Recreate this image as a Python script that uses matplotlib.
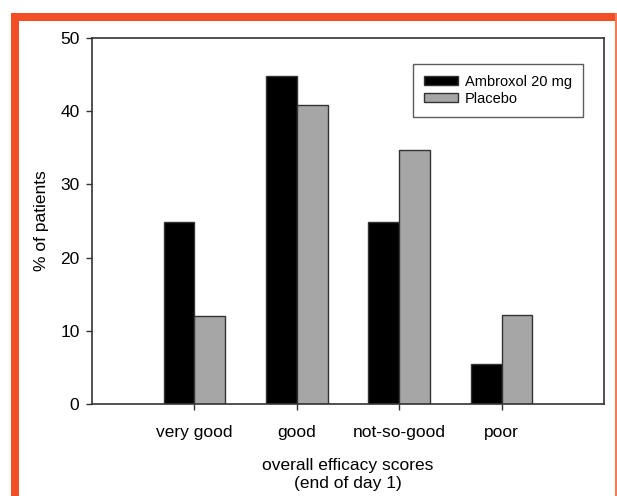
import numpy as np
import matplotlib.pyplot as plt
from matplotlib.patches import Rectangle

plt.rcParams['font.family'] = ['Liberation Sans', 'DejaVu Sans']

# efficacy scores at end of day 1
categories = ['very good', 'good', 'not-so-good', 'poor']
ambroxol = [24.8, 44.8, 24.8, 5.4]
placebo = [12.0, 40.9, 34.7, 12.2]

W, H = 617, 496
fig = plt.figure(figsize=(W / 100, H / 100), dpi=100)

# orange frame around the figure
orange = '#f24f24'
fig.patches.append(Rectangle((11 / W, 0), 8 / W, 1 - 13 / H, transform=fig.transFigure,
                             facecolor=orange, edgecolor='none'))
fig.patches.append(Rectangle((11 / W, 1 - 21 / H), 1 - 11 / W, 8 / H, transform=fig.transFigure,
                             facecolor=orange, edgecolor='none'))
fig.patches.append(Rectangle((615 / W, 0), 2 / W, 1 - 13 / H, transform=fig.transFigure,
                             facecolor='#f57a55', edgecolor='none'))

ax = fig.add_axes([92 / W, 1 - 404 / H, 512 / W, 366 / H])

x = np.arange(1, len(categories) + 1)
bw = 0.3
edge = '#333333'
ax.bar(x - bw / 2, ambroxol, bw, color='black', edgecolor=edge, linewidth=1, label='Ambroxol 20 mg')
ax.bar(x + bw / 2, placebo, bw, color='#a6a6a6', edgecolor=edge, linewidth=1, label='Placebo')

ax.set_xlim(0, 5)
ax.set_ylim(0, 50)
ax.set_xticks(x)
ax.set_xticklabels(categories)
ax.set_yticks(np.arange(0, 51, 10))

for s in ax.spines.values():
    s.set_color(edge)
    s.set_linewidth(1.2)

ax.tick_params(axis='both', direction='out', length=4, width=1, color=edge,
               labelsize=12.5, pad=5)
ax.tick_params(axis='x', pad=11)
ax.tick_params(axis='y', right=True, which='both')
# right-side ticks point inward
for t in ax.yaxis.get_major_ticks():
    t.tick2line.set_marker(0)  # TICKLEFT
    t.tick2line.set_markersize(5)
    if t.get_loc() in (0, 50):
        t.tick2line.set_visible(False)

ax.set_ylabel('% of patients', fontsize=12.5, labelpad=8)
ax.set_xlabel('overall efficacy scores\n(end of day 1)', fontsize=12.5, labelpad=13,
              linespacing=1.3)

leg = ax.legend(loc='upper right', bbox_to_anchor=(0.959, 0.929), borderaxespad=0,
                fontsize=10.5, frameon=True, fancybox=False, handlelength=2.3,
                handleheight=0.6, borderpad=0.75, labelspacing=0.2, handletextpad=0.5)
leg.get_frame().set_edgecolor(edge)
leg.get_frame().set_linewidth(1.0)

fig.savefig('out.png', dpi=100)
